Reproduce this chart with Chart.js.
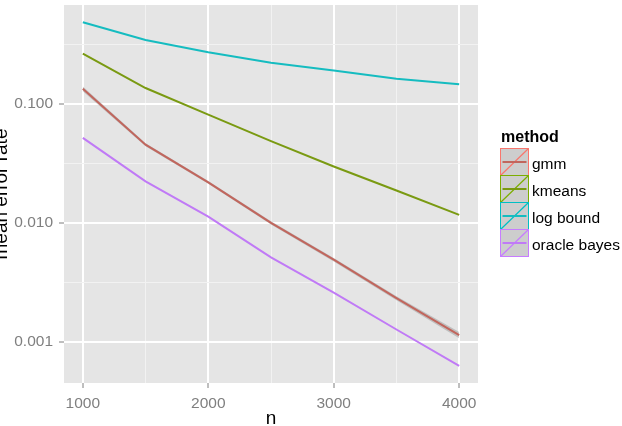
<!DOCTYPE html>
<html>
<head>
<meta charset="utf-8">
<script src="https://cdn.jsdelivr.net/npm/chart.js@4.4.1/dist/chart.umd.min.js"></script>
<style>
html,body{margin:0;padding:0;background:#ffffff;}
#wrap{width:622px;height:426px;}
</style>
</head>
<body>
<div id="wrap"><canvas id="c" width="622" height="426"></canvas></div>
<script>
// ---- data ----
const nValues = [1000, 1500, 2000, 2500, 3000, 3500, 4000];
const methods = ['gmm', 'kmeans', 'log bound', 'oracle bayes'];
const gmm = [0.134, 0.0454, 0.0219, 0.0100, 0.0049, 0.00233, 0.00114];
const gmmLower = [0.128, 0.0440, 0.0213, 0.0097, 0.00474, 0.00224, 0.00107];
const gmmUpper = [0.140, 0.0468, 0.0225, 0.0103, 0.00506, 0.00242, 0.00121];
const kmeans = [0.264, 0.136, 0.0813, 0.0487, 0.0298, 0.0187, 0.01167];
const logBound = [0.486, 0.344, 0.272, 0.222, 0.191, 0.163, 0.146];
const oracleBayes = [0.0518, 0.0223, 0.01128, 0.00513, 0.00259, 0.00127, 0.000628];
const xTicks = [1000, 1500, 2000, 2500, 3000, 3500, 4000];
const xTickLabels = ['1000', '', '2000', '', '3000', '', '4000'];
const yTicks = [0.001, 0.00316, 0.01, 0.0316, 0.1, 0.316];
const yTickLabels = ['0.001', '', '0.010', '', '0.100', ''];

// ---- styling ----
const FONT = '"Liberation Sans", Arial, sans-serif';
const lineColors = ['#C1665D', '#7A9A12', '#15BCC0', '#C07AF6'];
const keyColors = ['#F8766D', '#7CAE00', '#00BFC4', '#C77CFF'];
const seriesValues = [gmm, kmeans, logBound, oracleBayes];

const pts = arr => nValues.map((n, i) => ({x: n, y: arr[i]}));

const datasets = seriesValues.map((vals, i) => ({
  label: methods[i],
  data: pts(vals),
  borderColor: lineColors[i],
  borderWidth: 2,
  pointRadius: 0,
  tension: 0,
  fill: false,
  order: 1
}));
datasets.push({
  label: 'gmm-upper',
  data: pts(gmmUpper),
  borderWidth: 0,
  borderColor: 'rgba(0,0,0,0)',
  pointRadius: 0,
  fill: '+1',
  backgroundColor: 'rgba(120,120,120,0.35)',
  order: 5
});
datasets.push({
  label: 'gmm-lower',
  data: pts(gmmLower),
  borderWidth: 0,
  borderColor: 'rgba(0,0,0,0)',
  pointRadius: 0,
  fill: false,
  order: 6
});

const panelBg = {
  id: 'panelBg',
  beforeDraw(chart) {
    const a = chart.chartArea, ctx = chart.ctx;
    ctx.save();
    ctx.fillStyle = '#E5E5E5';
    ctx.fillRect(a.left, a.top, a.right - a.left, a.bottom - a.top);
    ctx.restore();
  }
};

const ggLegend = {
  id: 'ggLegend',
  afterDraw(chart) {
    const ctx = chart.ctx;
    ctx.save();
    ctx.fillStyle = '#000';
    ctx.textAlign = 'left';
    ctx.textBaseline = 'alphabetic';
    ctx.font = 'bold 16px ' + FONT;
    ctx.fillText('method', 501, 141.5);
    const x = 500.5, w = 28, h = 27;
    methods.forEach((m, i) => {
      const y = 148.5 + h * i;
      ctx.fillStyle = '#CDCDCD';
      ctx.fillRect(x, y, w, h);
      ctx.strokeStyle = keyColors[i];
      ctx.lineWidth = 1.2;
      ctx.beginPath();
      ctx.moveTo(x, y + h);
      ctx.lineTo(x + w, y);
      ctx.stroke();
      ctx.strokeStyle = lineColors[i];
      ctx.lineWidth = 2;
      ctx.beginPath();
      ctx.moveTo(x + 2, y + h / 2);
      ctx.lineTo(x + w - 2, y + h / 2);
      ctx.stroke();
      ctx.strokeStyle = keyColors[i];
      ctx.lineWidth = 1;
      ctx.strokeRect(x, y, w, h);
      ctx.fillStyle = '#000';
      ctx.font = '15.5px ' + FONT;
      ctx.fillText(m, 532, y + 20);
    });
    ctx.restore();
  }
};

const gridColor = labels => ctx => (labels[ctx.index] ? '#FFFFFF' : '#F2F2F2');
const gridWidth = labels => ctx => (labels[ctx.index] ? 2 : 1);
const tickColor = labels => ctx => (labels[ctx.index] ? '#7F7F7F' : 'rgba(0,0,0,0)');

new Chart(document.getElementById('c'), {
  type: 'line',
  data: {datasets},
  plugins: [panelBg, ggLegend],
  options: {
    responsive: false,
    animation: false,
    devicePixelRatio: 1,
    layout: {padding: {top: 5, right: 144, left: 0, bottom: 0}},
    plugins: {legend: {display: false}, tooltip: {enabled: false}},
    scales: {
      x: {
        type: 'linear',
        min: 850,
        max: 4150,
        bounds: 'data',
        afterBuildTicks: s => { s.ticks = xTicks.map(v => ({value: v})); },
        afterFit: s => { s.height = 43; s.paddingLeft = 0; s.paddingRight = 0; },
        ticks: {
          autoSkip: false, maxRotation: 0, padding: 6,
          color: '#7F7F7F', font: {family: FONT, size: 15.5},
          callback: (v, i) => xTickLabels[i]
        },
        grid: {
          color: gridColor(xTickLabels), lineWidth: gridWidth(xTickLabels),
          tickColor: tickColor(xTickLabels), tickWidth: 1, tickLength: 5, drawTicks: true
        },
        border: {display: false},
        title: {display: true, text: 'n', color: '#000', font: {family: FONT, size: 19}, padding: {top: 0, bottom: -4.4}}
      },
      y: {
        type: 'logarithmic',
        min: 0.000451,
        max: 0.678,
        bounds: 'data',
        afterBuildTicks: s => { s.ticks = yTicks.map(v => ({value: v})); },
        afterFit: s => { s.width = 64; s.paddingTop = 0; s.paddingBottom = 0; },
        ticks: {
          autoSkip: false, padding: 6,
          color: '#7F7F7F', font: {family: FONT, size: 15.5},
          callback: (v, i) => yTickLabels[i]
        },
        grid: {
          color: gridColor(yTickLabels), lineWidth: gridWidth(yTickLabels),
          tickColor: tickColor(yTickLabels), tickWidth: 1, tickLength: 5, drawTicks: true
        },
        border: {display: false},
        title: {display: true, text: 'mean error rate', color: '#000', font: {family: FONT, size: 19}, padding: {top: -10, bottom: 0}}
      }
    }
  }
});
</script>
</body>
</html>
